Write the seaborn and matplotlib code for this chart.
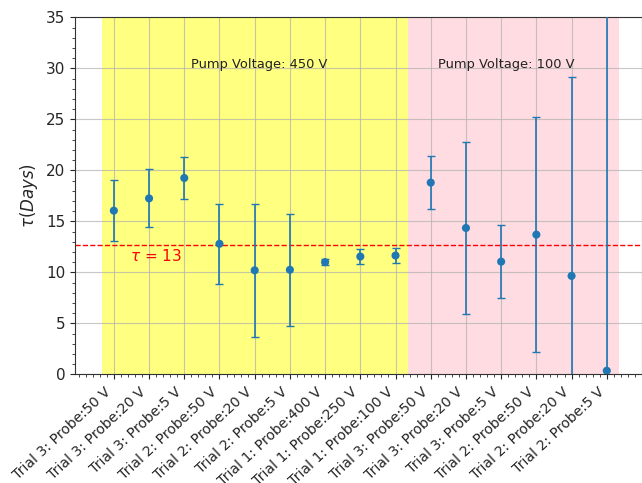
import numpy as np
import matplotlib
matplotlib.use("Agg")
import matplotlib.pyplot as plt
from matplotlib.ticker import AutoMinorLocator
import seaborn as sns
import pandas as pd

# Measured decay times per run
labels = [
    "Trial 3: Probe:50 V", "Trial 3: Probe:20 V", "Trial 3: Probe:5 V",
    "Trial 2: Probe:50 V", "Trial 2: Probe:20 V", "Trial 2: Probe:5 V",
    "Trial 1: Probe:400 V", "Trial 1: Probe:250 V", "Trial 1: Probe:100 V",
    "Trial 3: Probe:50 V", "Trial 3: Probe:20 V", "Trial 3: Probe:5 V",
    "Trial 2: Probe:50 V", "Trial 2: Probe:20 V", "Trial 2: Probe:5 V",
]
tau_values = [16.05, 17.25, 19.25, 12.8, 10.2, 10.25, 11.0, 11.55, 11.65,
              18.8, 14.35, 11.05, 13.7, 9.65, 0.35]
tau_errors = [3.0, 2.85, 2.05, 3.95, 6.55, 5.5, 0.3, 0.7, 0.7,
              2.6, 8.4, 3.6, 11.5, 19.55, 50.0]
mean_tau = 12.7
group_labels = ["Pump Voltage: 450 V", "Pump Voltage: 100 V"]

df = pd.DataFrame({"pos": np.arange(len(labels)), "tau": tau_values, "err": tau_errors})

sns.set_style("ticks")
plt.rcParams["font.family"] = ["DejaVu Sans"]

fig = plt.figure(figsize=(6.42, 4.83), dpi=100)
ax = fig.add_axes([0.117, 0.225, 0.883, 0.739])

# Shaded regions for the two pump voltages
ax.axvspan(-0.35, 8.35, color="#ffff80", zorder=0, lw=0)
ax.axvspan(8.35, 14.35, color="#ffdce1", zorder=0, lw=0)

ax.errorbar(df["pos"], df["tau"], yerr=df["err"], fmt="none",
            ecolor="#1f77b4", elinewidth=1.2, capsize=3, capthick=1, zorder=3)
sns.scatterplot(data=df, x="pos", y="tau", ax=ax, color="#1f77b4",
                s=34, edgecolor="none", zorder=4, legend=False)

ax.axhline(mean_tau, color="red", ls="--", lw=1, zorder=2)
ax.text(0.45, 11.6, f"$\\tau$ = {round(mean_tau)}", color="red", fontsize=11,
        va="center", ha="left")

ax.text(4.12, 30.4, group_labels[0], fontsize=9.4, ha="center", va="center", color="#222222")
ax.text(11.15, 30.4, group_labels[1], fontsize=9.4, ha="center", va="center", color="#222222")

ax.set_xlim(-1.1, 15.0)
ax.set_ylim(0, 35)
ax.set_xticks(df["pos"])
ax.set_xticklabels(labels, rotation=43, ha="right", fontsize=10.1)
ax.set_yticks(np.arange(0, 36, 5))
ax.tick_params(axis="y", labelsize=11)
ax.tick_params(axis="x", pad=4)
ax.yaxis.set_minor_locator(AutoMinorLocator(5))
ax.xaxis.set_minor_locator(AutoMinorLocator(5))
ax.grid(True, which="major", color="#b0b0b0", lw=0.8, alpha=0.7)
for line in ax.get_xgridlines() + ax.get_ygridlines():
    line.set_zorder(1)
ax.set_xlabel("")
ax.set_ylabel(r"$\tau (Days)$", fontsize=12)
for s in ax.spines.values():
    s.set_color("#333333")
    s.set_linewidth(0.8)

fig.savefig("out.png", dpi=100)
